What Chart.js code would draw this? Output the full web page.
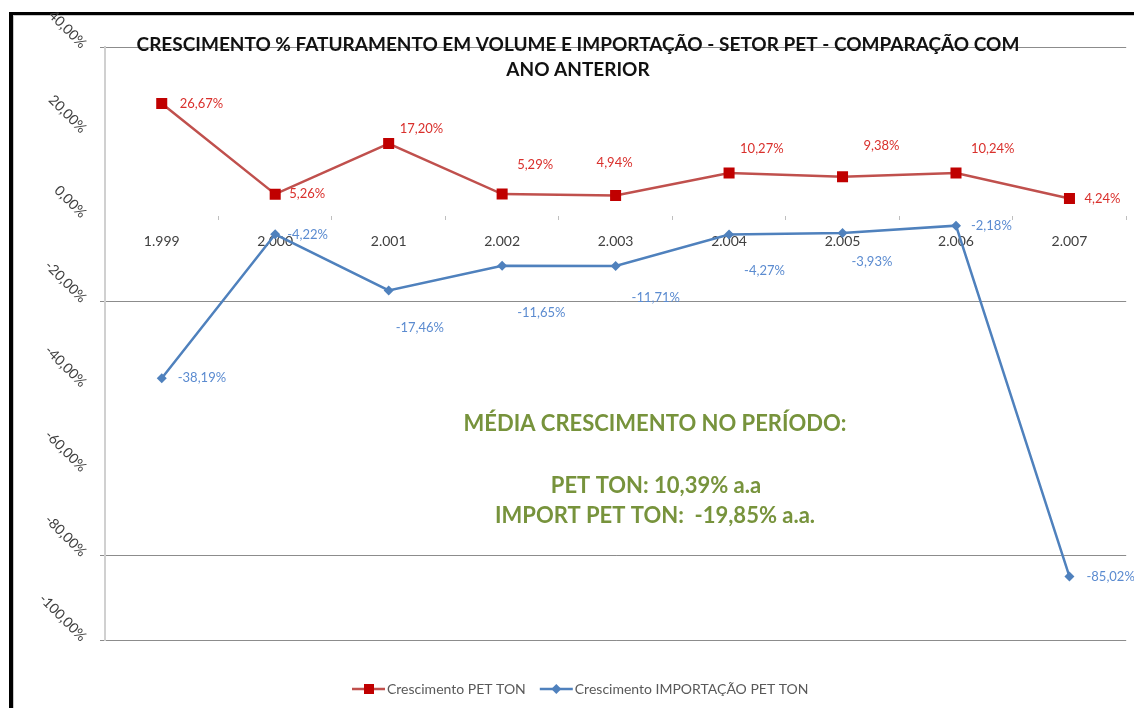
<!DOCTYPE html>
<html><head><meta charset="utf-8">
<script src="https://cdn.jsdelivr.net/npm/chart.js@4.4.1/dist/chart.umd.min.js"></script>
<style>html,body{margin:0;padding:0;background:#fff;}#wrap{position:relative;width:1134px;height:708px;}</style>
</head><body><div id="wrap"><canvas id="c" width="1134" height="708"></canvas></div>
<script>
// ---- data ----
const categories = ['1.999','2.000','2.001','2.002','2.003','2.004','2.005','2.006','2.007'];
const petTon = [26.67, 5.26, 17.20, 5.29, 4.94, 10.27, 9.38, 10.24, 4.24];
const importPetTon = [-38.19, -4.22, -17.46, -11.65, -11.71, -4.27, -3.93, -2.18, -85.02];
const yTickValues = [40, 20, 0, -20, -40, -60, -80, -100];
const yTickLabels = ['40,00%','20,00%','0,00%','-20,00%','-40,00%','-60,00%','-80,00%','-100,00%'];
const seriesNames = ['Crescimento PET TON', 'Crescimento IMPORTAÇÃO PET TON'];
const titleLines = ['CRESCIMENTO % FATURAMENTO EM VOLUME E IMPORTAÇÃO - SETOR PET - COMPARAÇÃO COM', 'ANO ANTERIOR'];
const noteLines = ['MÉDIA CRESCIMENTO NO PERÍODO:', 'PET TON: 10,39% a.a', 'IMPORT PET TON:  -19,85% a.a.'];
const visibleGridValues = [40, -20, -80, -100];

// label placement offsets (px) relative to each point
const petLabelOffsets = [[18,0],[14,0],[11,-15],[15,-29],[-19,-33],[11,-24],[21,-31],[15,-24],[15,0]];
const impLabelOffsets = [[16,0],[12,1],[7,37],[15,47],[16,32],[15,36],[9,29],[15,0],[17,0]];

const FONT = 'Lato, "Open Sans", sans-serif';
const fmt = v => v.toFixed(2).replace('.', ',') + '%';

const decor = {
  id: 'decor',
  beforeDraw(chart) {
    const ctx = chart.ctx; ctx.save();
    ctx.fillStyle = '#fff'; ctx.fillRect(0, 0, chart.width, chart.height);
    ctx.fillStyle = '#000';
    ctx.fillRect(9, 12, chart.width - 9, 3);
    ctx.fillRect(9, 12, 4, chart.height - 12);
    ctx.fillStyle = '#c8c8c8';
    ctx.fillRect(13, 15, chart.width - 13, 1);
    ctx.fillRect(13, 15, 1, chart.height - 15);
    ctx.restore();
  },
  afterDatasetsDraw(chart) {
    const ctx = chart.ctx; ctx.save();
    ctx.font = '13px ' + FONT; ctx.textBaseline = 'middle'; ctx.textAlign = 'left';
    const sets = [[0, petLabelOffsets, '#d9302c'], [1, impLabelOffsets, '#5b8bd0']];
    sets.forEach(([di, offs, col]) => {
      const meta = chart.getDatasetMeta(di);
      const data = chart.data.datasets[di].data;
      ctx.fillStyle = col;
      meta.data.forEach((pt, i) => {
        ctx.fillText(fmt(data[i]), pt.x + offs[i][0], pt.y + offs[i][1]);
      });
    });
    ctx.restore();
  },
  afterDraw(chart) {
    const ctx = chart.ctx; ctx.save();
    // y tick labels, rotated
    const ys = chart.scales.y;
    ctx.font = '14px ' + FONT; ctx.fillStyle = '#404040';
    ctx.textAlign = 'right'; ctx.textBaseline = 'middle';
    ys.ticks.forEach(t => {
      const idx = yTickValues.indexOf(t.value);
      if (idx < 0) return;
      const y = ys.getPixelForValue(t.value);
      ctx.save();
      ctx.translate(ys.left - 16, y - 1);
      ctx.rotate(Math.PI / 4);
      ctx.fillText(yTickLabels[idx], 0, 0);
      ctx.restore();
    });
    // title
    ctx.font = 'bold 19px ' + FONT; ctx.fillStyle = '#111';
    ctx.textAlign = 'center'; ctx.textBaseline = 'alphabetic';
    ctx.fillText(titleLines[0], 578, 51);
    ctx.fillText(titleLines[1], 578, 76);
    // note
    ctx.font = 'bold 22px ' + FONT; ctx.fillStyle = '#77933c';
    ctx.fillText(noteLines[0], 655, 431);
    ctx.fillText(noteLines[1], 656, 493);
    ctx.fillText(noteLines[2], 655, 523);
    // legend
    ctx.font = '14px ' + FONT; ctx.textAlign = 'left'; ctx.textBaseline = 'middle';
    let x = 352; const ly = 689;
    chart.data.datasets.forEach((ds, i) => {
      ctx.strokeStyle = ds.borderColor; ctx.lineWidth = 2.5;
      ctx.beginPath(); ctx.moveTo(x, ly); ctx.lineTo(x + 33, ly); ctx.stroke();
      ctx.fillStyle = ds.pointBackgroundColor;
      if (ds.pointStyle === 'rect') {
        ctx.fillRect(x + 12, ly - 5, 10, 10);
      } else {
        ctx.beginPath(); ctx.moveTo(x + 16.5, ly - 5); ctx.lineTo(x + 21.5, ly); ctx.lineTo(x + 16.5, ly + 5); ctx.lineTo(x + 11.5, ly); ctx.closePath(); ctx.fill();
      }
      ctx.fillStyle = '#595959';
      ctx.fillText(ds.label, x + 35, ly);
      x += 35 + ctx.measureText(ds.label).width + 14;
    });
    ctx.restore();
  }
};

new Chart(document.getElementById('c'), {
  type: 'line',
  data: {
    labels: categories,
    datasets: [
      { label: seriesNames[0], data: petTon, borderColor: '#c0504d', borderWidth: 2.5,
        pointStyle: 'rect', pointRadius: 7.8, pointHoverRadius: 7.8,
        pointBackgroundColor: '#c00000', pointBorderColor: '#c00000', pointBorderWidth: 0, tension: 0 },
      { label: seriesNames[1], data: importPetTon, borderColor: '#4f81bd', borderWidth: 2.5,
        pointStyle: 'rectRot', pointRadius: 5, pointHoverRadius: 5,
        pointBackgroundColor: '#4f81bd', pointBorderColor: '#4f81bd', pointBorderWidth: 0, tension: 0 }
    ]
  },
  options: {
    responsive: false, animation: false, devicePixelRatio: 1,
    layout: { padding: { left: 100, top: 47, right: 6, bottom: 68 } },
    plugins: { legend: { display: false }, title: { display: false }, tooltip: { enabled: false } },
    scales: {
      x: {
        type: 'category', position: { y: 0 }, offset: true,
        grid: { offset: true, drawOnChartArea: false, drawTicks: true, tickLength: 4, color: '#bfbfbf' },
        border: { display: false },
        ticks: { color: '#404040', font: { family: FONT, size: 14 }, padding: 13, maxRotation: 0, autoSkip: false }
      },
      y: {
        min: -100, max: 40,
        afterFit(s) { s.width = 5; },
        ticks: { stepSize: 20, display: false },
        grid: { drawTicks: true, tickLength: 5, lineWidth: 1,
          color: c => (c.tick && visibleGridValues.includes(c.tick.value)) ? '#8c8c8c' : 'rgba(0,0,0,0)' },
        border: { display: true, color: '#d0d0d0', width: 2 }
      }
    }
  },
  plugins: [decor]
});
</script></body></html>
